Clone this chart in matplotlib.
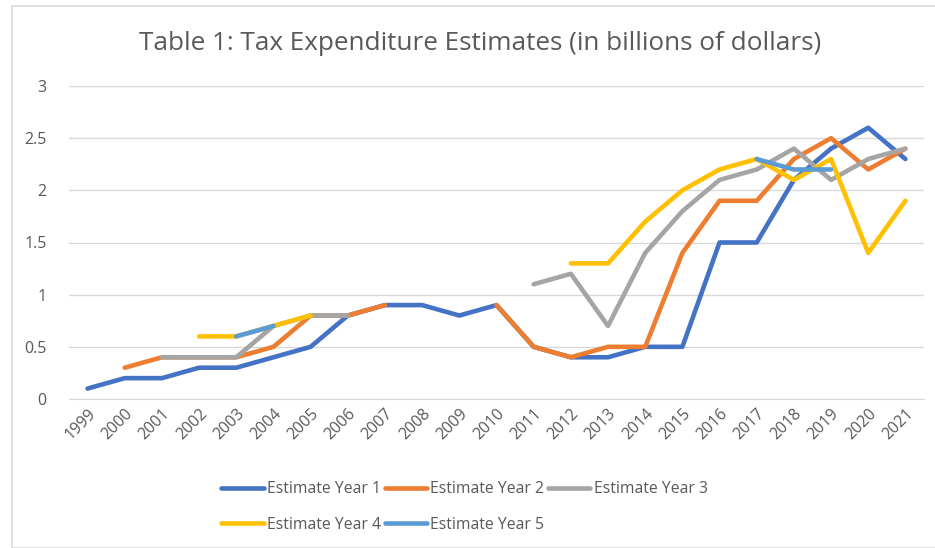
import numpy as np
import matplotlib
matplotlib.use("Agg")
import matplotlib.pyplot as plt
from matplotlib.patches import Rectangle

nan = np.nan
years = [str(y) for y in range(1999, 2022)]

# estimates in billions of dollars, one list per estimate year (nan = no value)
year1 = [0.1, 0.2, 0.2, 0.3, 0.3, 0.4, 0.5, 0.8, 0.9, 0.9, 0.8, 0.9,
         0.5, 0.4, 0.4, 0.5, 0.5, 1.5, 1.5, 2.1, 2.4, 2.6, 2.3]
year2 = [nan, 0.3, 0.4, 0.4, 0.4, 0.5, 0.8, 0.8, 0.9, nan, nan, 0.9,
         0.5, 0.4, 0.5, 0.5, 1.4, 1.9, 1.9, 2.3, 2.5, 2.2, 2.4]
year3 = [nan, nan, 0.4, 0.4, 0.4, 0.7, 0.8, 0.8, nan, nan, nan, nan,
         1.1, 1.2, 0.7, 1.4, 1.8, 2.1, 2.2, 2.4, 2.1, 2.3, 2.4]
year4 = [nan, nan, nan, 0.6, 0.6, 0.7, 0.8, nan, nan, nan, nan, nan,
         nan, 1.3, 1.3, 1.7, 2.0, 2.2, 2.3, 2.1, 2.3, 1.4, 1.9]
year5 = [nan, nan, nan, nan, 0.6, 0.7, nan, nan, nan, nan, nan, nan,
         nan, nan, nan, nan, nan, nan, 2.3, 2.2, 2.2, nan, nan]

series = [year1, year2, year3, year4, year5]
names = ["Estimate Year 1", "Estimate Year 2", "Estimate Year 3",
         "Estimate Year 4", "Estimate Year 5"]
colors = ["#4472C4", "#ED7D31", "#A5A5A5", "#FFC000", "#5B9BD5"]

plt.rcParams['font.family'] = ['Open Sans', 'DejaVu Sans']
txt = "#595959"

W, H = 935, 548
fig = plt.figure(figsize=(W / 100, H / 100), dpi=100)

# light chart border like the Excel chart area
fig.patches.append(Rectangle((12 / W, 0), 1.0, 1 - 6 / H, transform=fig.transFigure,
                             fill=False, edgecolor="#D9D9D9", lw=1.2))

ax = fig.add_axes([69 / W, 1 - 399 / H, (924 - 69) / W, (399 - 86) / H])

x = np.arange(len(years))
handles = []
for i, (vals, name, c) in enumerate(zip(series, names, colors)):
    h, = ax.plot(x, vals, color=c, lw=3.3, label=name, solid_capstyle='round',
                 solid_joinstyle='round', zorder=3 + i)
    handles.append(h)

ax.set_xlim(-0.5, len(years) - 0.5)
ax.set_ylim(0, 3)
ax.set_yticks([0, 0.5, 1, 1.5, 2, 2.5, 3])
ax.set_yticklabels(["0", "0.5", "1", "1.5", "2", "2.5", "3"])
ax.set_xticks(x)
ax.set_xticklabels(years, rotation=45, ha='right', rotation_mode='anchor')
ax.grid(axis='y', color="#D9D9D9", lw=1)
ax.set_axisbelow(True)
for s in ax.spines.values():
    s.set_visible(False)
ax.spines['bottom'].set_visible(True)
ax.spines['bottom'].set_color("#D9D9D9")
ax.tick_params(axis='both', length=0, colors=txt, labelsize=11.5)
ax.tick_params(axis='y', pad=16)
ax.tick_params(axis='x', pad=5)

fig.text(480 / W, 1 - 44 / H, "Table 1: Tax Expenditure Estimates (in billions of dollars)",
         ha='center', va='center', fontsize=18.8, color=txt)

order = [0, 3, 1, 4, 2]
leg = fig.legend([handles[k] for k in order], [names[k] for k in order],
                 ncol=3, loc='center left', bbox_to_anchor=(207 / W, 1 - 507 / H),
                 frameon=False, handlelength=2.7, handletextpad=0.2,
                 columnspacing=0.25, labelspacing=1.25, fontsize=11.3)
for t in leg.get_texts():
    t.set_color(txt)

plt.savefig("out.png", dpi=100)
